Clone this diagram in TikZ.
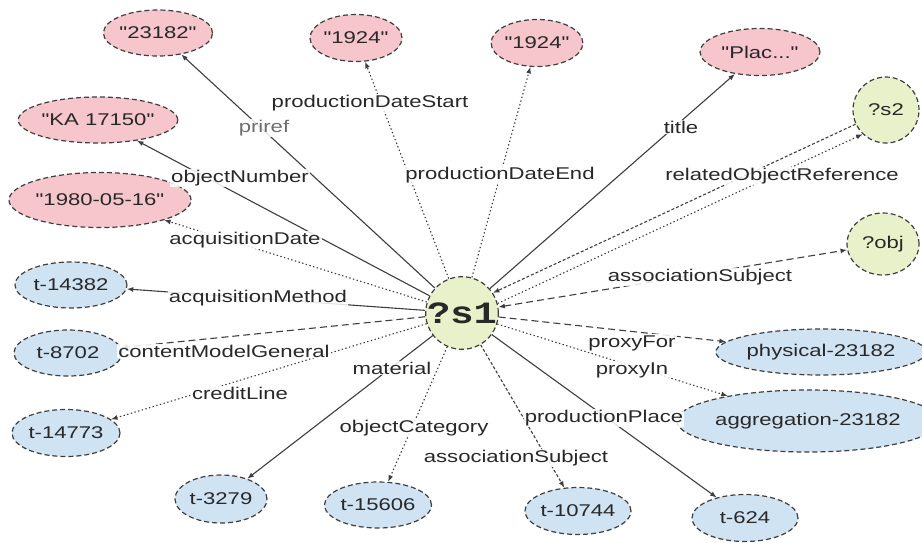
\documentclass[tikz,border=0pt]{standalone}
\usepackage{fontspec}
\usetikzlibrary{shapes.geometric,arrows.meta}

\newfontfamily\lblfont[FakeStretch=1.3]{Liberation Sans}
\newfontfamily\varfont[FakeStretch=1.25]{Liberation Mono}

\definecolor{litpink}{RGB}{246,198,204}
\definecolor{termblue}{RGB}{208,227,243}
\definecolor{vargreen}{RGB}{233,241,202}
\definecolor{edgegray}{RGB}{62,62,62}
\definecolor{textgray}{RGB}{40,40,40}
\definecolor{softgray}{RGB}{110,110,110}

\tikzset{
  mytip/.tip={Latex[length=6.5pt,width=5pt]},
  txt/.style={font=\lblfont\fontsize{17}{19}\selectfont},
  base/.style={ellipse, draw=edgegray, line width=1.2pt, dash pattern=on 5pt off 3pt,
    inner sep=0pt, text=textgray, txt},
  lit/.style={base, fill=litpink},
  term/.style={base, fill=termblue},
  var/.style={base, fill=vargreen},
  rel/.style={edgegray, line width=1.1pt, -mytip},
  solidrel/.style={rel},
  dotrel/.style={rel, dash pattern=on 1.4pt off 2.4pt},
  dashrel/.style={rel, dash pattern=on 7pt off 4pt},
  fdashrel/.style={rel, dash pattern=on 3pt off 2pt},
  lbl/.style={txt, text=textgray, fill=white, fill opacity=0.85, text opacity=1, inner sep=1pt},
}

\begin{document}
\begin{tikzpicture}[x=1pt,y=-1pt]
\useasboundingbox (0,0) rectangle (922,542);

% central subject
\node[var, circle, minimum size=72pt] (s1) at (462,313)
  {\varfont\bfseries\fontsize{31}{31}\selectfont ?s1};

% other variables
\node[var, circle, minimum size=66pt] (s2) at (886,110) {?s2};
\node[var, minimum width=72pt, minimum height=62pt] (obj) at (883,244) {?obj};

% literals
\node[lit, minimum width=106pt, minimum height=46pt] (lpriref) at (158,33) {"23182"};
\node[lit, minimum width=92pt, minimum height=47pt] (lstart) at (356,38) {"1924"};
\node[lit, minimum width=91pt, minimum height=47pt] (lend) at (537,43) {"1924"};
\node[lit, minimum width=120pt, minimum height=47pt] (ltitle) at (760,52) {"Plac..."};
\node[lit, minimum width=153pt, minimum height=46pt] (lobjnum) at (98,120) {"KA 17150"};
\node[lit, minimum width=162pt, minimum height=55pt] (lacq) at (100,200) {"1980-05-16"};

% terms
\node[term, minimum width=112pt, minimum height=46pt] (tmethod) at (71,285) {t-14382};
\node[term, minimum width=108pt, minimum height=46pt] (tcontent) at (68,353) {t-8702};
\node[term, minimum width=108pt, minimum height=47pt] (tcredit) at (66,433) {t-14773};
\node[term, minimum width=92pt, minimum height=48pt] (tmaterial) at (221,499) {t-3279};
\node[term, minimum width=107pt, minimum height=46pt] (tcategory) at (378,505) {t-15606};
\node[term, minimum width=98pt, minimum height=47pt] (tsubject) at (578,511) {t-10744};
\node[term, minimum width=106pt, minimum height=47pt] (tplace) at (745,518) {t-624};
\node[term, minimum width=195pt, minimum height=46pt] (tphys) at (821,352) {physical-23182};
\node[term, minimum width=215pt, minimum height=62pt] (tagg) at (808,421) {aggregation-23182};

% relations
\draw[solidrel] (s1) -- (lpriref);
\draw[dotrel] (s1) -- (lstart);
\draw[dotrel] (s1) -- (lend);
\draw[solidrel] (s1) -- (ltitle);
\draw[fdashrel] (s2.205) -- (s1.33);
\draw[dotrel] (s1.15) -- (s2.226);
\draw[dashrel, mytip-mytip] (s1) -- (obj);
\draw[solidrel] (s1) -- (lobjnum);
\draw[dotrel] (s1) -- (lacq);
\draw[solidrel] (s1) -- (tmethod);
\draw[dashrel] (s1) -- (tcontent);
\draw[dotrel] (s1) -- (tcredit);
\draw[solidrel] (s1) -- (tmaterial);
\draw[dotrel] (s1) -- (tcategory);
\draw[fdashrel] (s1) -- (tsubject);
\draw[solidrel] (s1) -- (tplace);
\draw[dashrel] (s1) -- (tphys);
\draw[dotrel] (s1) -- (tagg);

% relation labels
\node[lbl, text=softgray] (npriref) at (264,128) {priref};
\node[lbl] (nstart) at (370,103) {productionDateStart};
\node[lbl] (nend) at (500,175) {productionDateEnd};
\node[lbl] (ntitle) at (681,127) {title};
\node[lbl] (nrel) at (782,176) {relatedObjectReference};
\node[lbl] (nobjnum) at (240,178) {objectNumber};
\node[lbl] (nacq) at (245,240) {acquisitionDate};
\node[lbl] (nmethod) at (258,298) {acquisitionMethod};
\node[lbl] (nassoc) at (700,277) {associationSubject};
\node[lbl] (ncontent) at (224,351) {contentModelGeneral};
\node[lbl] (nfor) at (632,343) {proxyFor};
\node[lbl] (nin) at (632,370) {proxyIn};
\node[lbl] (nmaterial) at (392,368) {material};
\node[lbl] (ncredit) at (240,393) {creditLine};
\node[lbl] (nplace) at (604,418) {productionPlace};
\node[lbl] (ncategory) at (414,428) {objectCategory};
\node[lbl] (nsubject) at (516,458) {associationSubject};
\end{tikzpicture}
\end{document}
